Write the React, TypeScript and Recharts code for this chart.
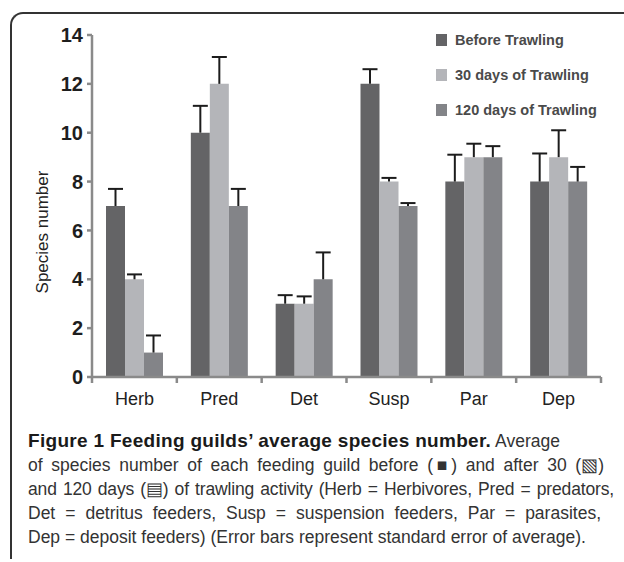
import { Bar, BarChart, LabelList, XAxis, YAxis } from "recharts";

const guilds = ["Herb", "Pred", "Det", "Susp", "Par", "Dep"];
const before = [7, 10, 3, 12, 8, 8];
const after30 = [4, 12, 3, 8, 9, 9];
const after120 = [1, 7, 4, 7, 9, 8];
const beforeErr = [0.7, 1.1, 0.35, 0.6, 1.1, 1.15];
const after30Err = [0.2, 1.1, 0.3, 0.15, 0.55, 1.1];
const after120Err = [0.7, 0.7, 1.1, 0.12, 0.45, 0.6];
const seriesNames = ["Before Trawling", "30 days of Trawling", "120 days of Trawling"];
const seriesColors = ["#646466", "#b4b5b9", "#838488"];
const yTicks = [0, 2, 4, 6, 8, 10, 12, 14];

const rows = guilds.map((g, i) => ({
  guild: g,
  before: before[i],
  after30: after30[i],
  after120: after120[i],
}));

const AXIS = "#8a8a8a";
const FONT = "'Liberation Sans', Arial, sans-serif";
const LABEL_GAP = 15;

// upper-only error whisker, scaled from the bar's own pixel height
function errorCap(values: number[], errs: number[]) {
  return (p: any) => {
    const vb = p.viewBox ?? p;
    const i = p.index;
    const v = values[i];
    const e = errs[i];
    if (!v || vb.height == null) return null;
    const unit = vb.height / v;
    const cx = vb.x + vb.width / 2;
    const top = vb.y - e * unit;
    return (
      <g stroke="#1c1c1c" strokeWidth={2}>
        <line x1={cx} x2={cx} y1={vb.y} y2={top} />
        <line x1={cx - 7.5} x2={cx + 7.5} y1={top} y2={top} />
      </g>
    );
  };
}

// category label plus tick marks on the band edges (Excel style)
function GuildTick(p: any) {
  const half = p.payload?.offset ?? 0;
  const axisY = p.y - LABEL_GAP;
  const last = p.payload?.index === guilds.length - 1;
  return (
    <g>
      <line x1={p.x - half} x2={p.x - half} y1={axisY} y2={axisY + 6} stroke={AXIS} strokeWidth={2.5} />
      {last && (
        <line x1={p.x + half} x2={p.x + half} y1={axisY} y2={axisY + 6} stroke={AXIS} strokeWidth={2.5} />
      )}
      <text x={p.x} y={p.y} dy="0.71em" textAnchor="middle" fill="#222" fontSize={18} fontFamily={FONT}>
        {p.payload?.value}
      </text>
    </g>
  );
}

const justified = { textAlignLast: "justify", textAlign: "justify", whiteSpace: "normal" } as const;

export default function App() {
  return (
    <div
      style={{
        position: "fixed",
        top: 0,
        left: 0,
        width: 624,
        height: 562,
        overflow: "hidden",
        background: "#fff",
      }}
    >
      <div
        style={{
          position: "absolute",
          left: 10,
          top: 12,
          width: 660,
          height: 545,
          borderTop: "2px solid #333",
          borderLeft: "2px solid #333",
          borderTopLeftRadius: 13,
        }}
      />
      <div
        style={{
          position: "absolute",
          left: 43,
          top: 232,
          transform: "translate(-50%, -50%) rotate(-90deg)",
          fontFamily: FONT,
          fontSize: 17,
          color: "#222",
          whiteSpace: "nowrap",
        }}
      >
        Species number
      </div>
      <div style={{ position: "absolute", left: 0, top: 0 }}>
        <BarChart
          width={624}
          height={420}
          data={rows}
          margin={{ top: 35, right: 23, left: 32, bottom: 13 }}
          barSize={19}
          barGap={0}
        >
          <XAxis
            dataKey="guild"
            tickLine={false}
            tickSize={0}
            tickMargin={LABEL_GAP}
            axisLine={{ stroke: AXIS, strokeWidth: 2.5 }}
            tick={<GuildTick />}
            interval={0}
          />
          <YAxis
            width={60}
            domain={[0, 14]}
            ticks={yTicks}
            interval={0}
            tickSize={5}
            tickMargin={4}
            axisLine={{ stroke: AXIS, strokeWidth: 2.5 }}
            tickLine={{ stroke: AXIS, strokeWidth: 2.5 }}
            tick={{ fill: "#1e1e1e", fontSize: 20, fontWeight: 700, fontFamily: FONT }}
          />
          <Bar dataKey="before" name={seriesNames[0]} fill={seriesColors[0]} isAnimationActive={false}>
            <LabelList dataKey="before" content={errorCap(before, beforeErr)} />
          </Bar>
          <Bar dataKey="after30" name={seriesNames[1]} fill={seriesColors[1]} isAnimationActive={false}>
            <LabelList dataKey="after30" content={errorCap(after30, after30Err)} />
          </Bar>
          <Bar dataKey="after120" name={seriesNames[2]} fill={seriesColors[2]} isAnimationActive={false}>
            <LabelList dataKey="after120" content={errorCap(after120, after120Err)} />
          </Bar>
        </BarChart>
      </div>
      <div
        style={{
          position: "absolute",
          left: 436,
          top: 22,
          fontFamily: FONT,
          fontWeight: 700,
          fontSize: 14.5,
          color: "#4a4a4a",
        }}
      >
        {seriesNames.map((name, i) => (
          <div key={name} style={{ display: "flex", alignItems: "center", height: 35 }}>
            <span style={{ width: 11, height: 12, background: seriesColors[i], marginRight: 8 }} />
            {name}
          </div>
        ))}
      </div>
      <div
        style={{
          position: "absolute",
          left: 28,
          top: 429,
          width: 584,
          fontFamily: FONT,
          fontSize: 17.5,
          lineHeight: "24px",
          color: "#333",
          whiteSpace: "nowrap",
        }}
      >
        <div>
          <span style={{ fontWeight: 700, fontSize: 19, letterSpacing: 0.3, color: "#1a1a1a" }}>
            Figure 1 Feeding guilds’ average species number.
          </span>{" "}
          Average
        </div>
        <div style={{ ...justified, width: 576 }}>
          of species number of each feeding guild before (■) and after 30 (▧)
        </div>
        <div style={{ ...justified, width: 586, letterSpacing: -0.15 }}>
          and 120 days (▤) of trawling activity (Herb = Herbivores, Pred = predators,
        </div>
        <div style={{ ...justified, width: 573 }}>
          Det = detritus feeders, Susp = suspension feeders, Par = parasites,
        </div>
        <div>Dep = deposit feeders) (Error bars represent standard error of average).</div>
      </div>
    </div>
  );
}
